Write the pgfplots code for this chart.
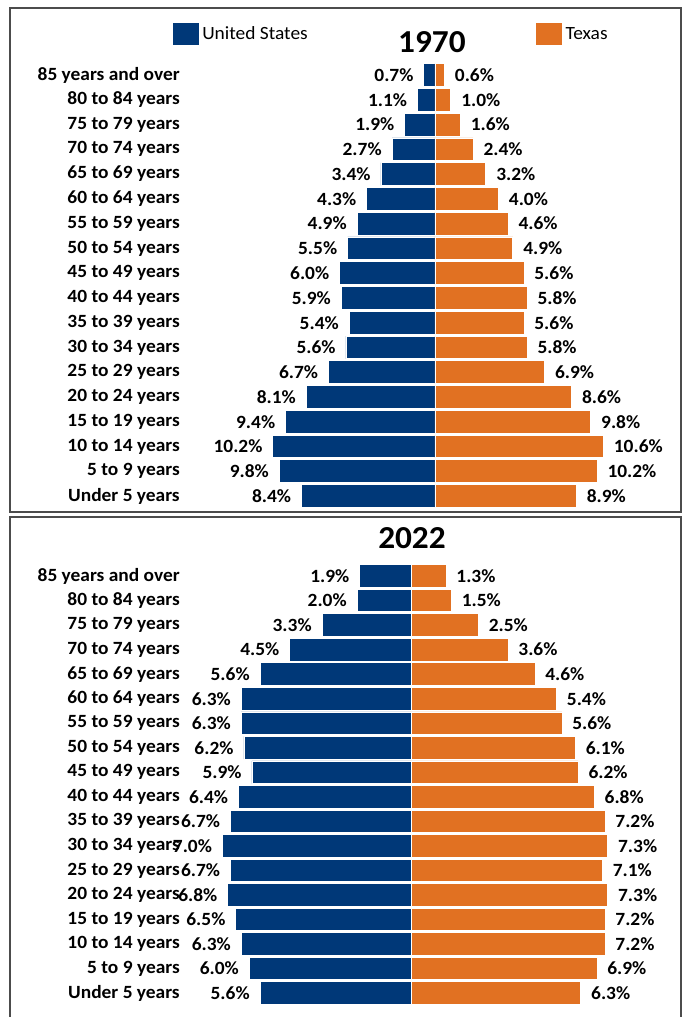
\documentclass[border=0pt]{standalone}
\usepackage{pgfplots}
\pgfplotsset{compat=1.18}
\usepackage{pgfplotstable}
\usepackage{fontspec}
\setmainfont{Carlito}[FakeStretch=1.04]
\definecolor{usblue}{RGB}{0,56,120}
\definecolor{txorange}{RGB}{225,113,34}

% y = row index (0 = Under 5 years, 17 = 85 years and over)
\pgfplotstableread{
y US TX
17 0.7 0.6
16 1.1 1.0
15 1.9 1.6
14 2.7 2.4
13 3.4 3.2
12 4.3 4.0
11 4.9 4.6
10 5.5 4.9
9 6.0 5.6
8 5.9 5.8
7 5.4 5.6
6 5.6 5.8
5 6.7 6.9
4 8.1 8.6
3 9.4 9.8
2 10.2 10.6
1 9.8 10.2
0 8.4 8.9
}\seventy

\pgfplotstableread{
y US TX
17 1.9 1.3
16 2.0 1.5
15 3.3 2.5
14 4.5 3.6
13 5.6 4.6
12 6.3 5.4
11 6.3 5.6
10 6.2 6.1
9 5.9 6.2
8 6.4 6.8
7 6.7 7.2
6 7.0 7.3
5 6.7 7.1
4 6.8 7.3
3 6.5 7.2
2 6.3 7.2
1 6.0 6.9
0 5.6 6.3
}\twentytwo

\pgfplotsset{
  pyr/.style={
    xbar, bar shift=0pt, bar width=0.92,
    scale only axis,
    axis line style={draw=none},
    major tick length=0pt,
    xtick=\empty,
    ytick={0,...,17},
    yticklabels={Under 5 years,5 to 9 years,10 to 14 years,15 to 19 years,20 to 24 years,25 to 29 years,30 to 34 years,35 to 39 years,40 to 44 years,45 to 49 years,50 to 54 years,55 to 59 years,60 to 64 years,65 to 69 years,70 to 74 years,75 to 79 years,80 to 84 years,85 years and over},
    yticklabel style={anchor=east, inner sep=0pt, font=\bfseries\fontsize{14}{16}\selectfont},
    ymin=-0.5, ymax=17.5,
    clip=false,
    /pgf/number format/assume math mode=true,
    nodes near coords={\pgfmathprintnumber[fixed,fixed zerofill,precision=1]{\pgfplotspointmeta}\%},
    title style={anchor=center, font=\bfseries\fontsize{24}{28}\selectfont},
  },
  usbar/.style={fill=usblue, draw=white, line width=0.6pt,
    point meta=\thisrow{US},
    every node near coord/.style={anchor=east, inner sep=0pt, xshift=-7.5pt, text=black, font=\bfseries\fontsize{14}{16}\selectfont}},
  txbar/.style={fill=txorange, draw=white, line width=0.6pt,
    point meta=\thisrow{TX},
    every node near coord/.style={anchor=west, inner sep=0pt, xshift=7.5pt, text=black, font=\bfseries\fontsize{14}{16}\selectfont}},
}

\begin{document}
\begin{tikzpicture}[x=0.75pt,y=0.75pt]
\path[use as bounding box] (0,0) rectangle (683,1017);
\begin{scope}
\clip (0,0) rectangle (683,1017);
\draw[black!70, line width=0.8pt] (10,1009) rectangle (681,505);
\draw[black!70, line width=0.8pt] (10,500) rectangle (681,-10);
\end{scope}

\begin{axis}[pyr,
  at={(135pt,381.45pt)}, anchor=south west,
  width=369pt, height=334.3pt,
  xmin=-16.04, xmax=14.91,
  title={1970}, title style={at={(0.512,1.028)}},
  legend columns=2,
  legend style={draw=none, fill=none, at={(-0.0172,1.091)}, anchor=north west,
    inner sep=0pt, font=\fontsize{14}{16}\selectfont,
    /tikz/every even column/.append style={column sep=168.5pt}},
  legend cell align=left,
  legend image code/.code={\fill[#1] (0pt,-8.6pt) rectangle (20.25pt,8.6pt);},
]
\addplot[usbar] table[x expr=-\thisrow{US}, y=y] {\seventy};
\addlegendentry{United States}
\addplot[txbar] table[x=TX, y=y] {\seventy};
\addlegendentry{Texas}
\end{axis}

\begin{axis}[pyr,
  at={(135pt,8.8pt)}, anchor=south west,
  width=369pt, height=331.1pt,
  xmin=-8.571, xmax=9.685,
  title={2022}, title style={at={(0.4715,1.040)}},
]
\addplot[usbar] table[x expr=-\thisrow{US}, y=y] {\twentytwo};
\addplot[txbar] table[x=TX, y=y] {\twentytwo};
\end{axis}
\end{tikzpicture}
\end{document}
